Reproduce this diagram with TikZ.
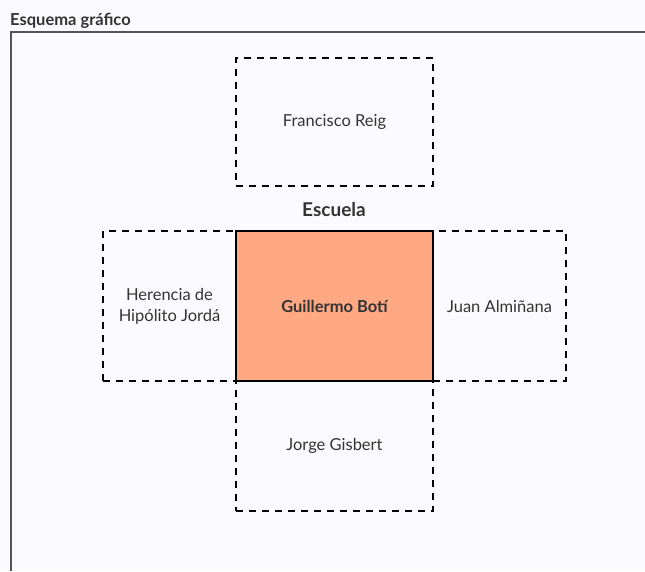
\documentclass[tikz,border=0pt]{standalone}
\usepackage{fontspec}
\setmainfont{Lato}
\definecolor{pagebg}{HTML}{FBFAFE}
\definecolor{txt}{HTML}{333333}
\definecolor{salmon}{HTML}{FFA884}
\definecolor{framegray}{HTML}{555555}

\begin{document}
\begin{tikzpicture}[x=1pt,y=-1pt,
    part/.style={draw=black,line width=2pt,dash pattern=on 7pt off 6pt,
      minimum width=197pt,minimum height=128pt,anchor=north west,
      align=center,text=txt,font=\fontsize{16.5}{21}\selectfont},
    core/.style={draw=black,line width=2pt,fill=salmon,
      minimum width=197pt,minimum height=150pt,anchor=north west,
      align=center,text=txt,font=\fontsize{16.5}{21}\selectfont\bfseries}]
    \fill[pagebg] (0,0) rectangle (645,571);
    \useasboundingbox (0,0) rectangle (645,571);

    \node[anchor=base west,text=txt,font=\fontsize{16.5}{18}\selectfont\bfseries,inner sep=0pt] (title) at (10,25) {Esquema gráfico};
    \coordinate (frametop) at (645,32);
    \coordinate (framebot) at (11,571);
    \draw[framegray,line width=1.5pt] (framebot) |- (frametop);

    \node[part] (reig) at (235,57) {Francisco Reig};
    \node[part,minimum width=133pt,minimum height=150pt] (jorda) at (102,230) {Herencia de\\Hipólito Jordá};
    \node[part,minimum width=133pt,minimum height=150pt] (alminana) at (432,230) {Juan Almiñana};
    \node[part,minimum height=130pt] (gisbert) at (235,380) {Jorge Gisbert};
    \node[core] (boti) at (235,230) {Guillermo Botí};

    \node[text=txt,font=\fontsize{19}{21}\selectfont\bfseries] (escuela) at (334,210) {Escuela};
  \end{tikzpicture}
\end{document}
